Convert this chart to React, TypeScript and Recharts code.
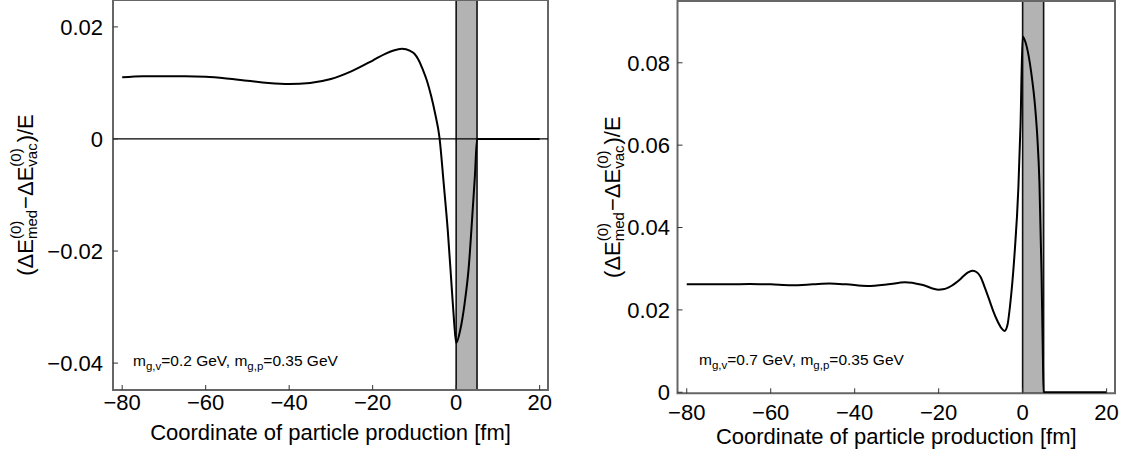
import React from "react";
import { LineChart, Line, XAxis, YAxis, ReferenceArea, ReferenceLine } from "recharts";

const FONT = "'Liberation Sans', Arial, Helvetica, sans-serif";

// shared x axis
const xTicks = [-80, -60, -40, -20, 0, 20];
const xDomain: [number, number] = [-82.2, 22.0];
const bandFrom = 0;
const bandTo = 5;
const xTitle = "Coordinate of particle production [fm]";

// left panel: m_g,v = 0.2 GeV
const leftX = [-80, -75, -70, -65, -60, -55, -50, -45, -40, -35, -30, -25, -20, -17, -15, -13, -11, -10, -9, -8, -7, -6, -5, -4, -3, -2, -1, -0.5, 0, 1, 2, 3, 4, 4.5, 5, 6, 10, 15, 20];
const leftY = [0.011, 0.0112, 0.0112, 0.0112, 0.0111, 0.0108, 0.0104, 0.01, 0.0098, 0.01, 0.0107, 0.0121, 0.014, 0.0152, 0.0158, 0.0161, 0.0157, 0.0152, 0.0141, 0.0124, 0.0104, 0.0077, 0.0044, 0.0003, -0.0078, -0.0164, -0.0272, -0.0325, -0.0364, -0.034, -0.0295, -0.023, -0.0122, -0.0065, 0, 0, 0, 0, 0];
const leftYTicks = [-0.04, -0.02, 0, 0.02];
const leftYDomain: [number, number] = [-0.0448, 0.0248];
const leftMgv = "0.2";

// right panel: m_g,v = 0.7 GeV
const rightX = [-80, -75, -70, -65, -60, -55, -50, -46, -42, -37, -32, -28, -24, -20, -19, -18, -17, -16, -15, -14, -13, -12, -11, -10, -9, -8, -7, -6, -5, -4.3, -3.6, -3, -2, -1, -0.5, 0, 0.5, 1, 2, 3, 3.5, 4, 4.5, 4.8, 5, 6, 10, 15, 20];
const rightY = [0.0262, 0.0262, 0.0262, 0.0263, 0.0262, 0.026, 0.0262, 0.0264, 0.0262, 0.0258, 0.0262, 0.0267, 0.0261, 0.0249, 0.025, 0.0253, 0.0258, 0.0265, 0.0273, 0.0283, 0.0291, 0.0295, 0.0292, 0.028, 0.0254, 0.0226, 0.0197, 0.0173, 0.0155, 0.0149, 0.0164, 0.021, 0.0325, 0.05, 0.065, 0.0864, 0.0855, 0.0838, 0.078, 0.069, 0.062, 0.051, 0.029, 0.01, 0, 0, 0, 0, 0];
const rightYTicks = [0, 0.02, 0.04, 0.06, 0.08];
const rightYDomain: [number, number] = [-0.00025, 0.095];
const rightMgv = "0.7";

const mgp = "0.35";

const fmtX = (v: number) => (v < 0 ? "\u2212" : "") + Math.abs(v);
const fmtY = (v: number) => (v === 0 ? "0" : (v < 0 ? "\u2212" : "") + Math.abs(v).toFixed(2));

// rough Arial advance widths, used to stack the sub/superscripts of the y label
const CW: Record<string, number> = {
  "(": 0.333, ")": 0.333, "\u0394": 0.668, E: 0.667, "0": 0.556, m: 0.833, e: 0.556, d: 0.556,
  "\u2212": 0.584, v: 0.5, a: 0.556, c: 0.5, "/": 0.278,
};
const textW = (s: string, size: number) => [...s].reduce((a, ch) => a + (CW[ch] ?? 0.556) * size, 0);

function YLabel({ cx, cy }: { cx: number; cy: number }) {
  const F = 22;
  const S = 15;
  const parts: { main?: string; sup?: string; sub?: string }[] = [
    { main: "(\u0394E" },
    { sup: "(0)", sub: "med" },
    { main: "\u2212\u0394E" },
    { sup: "(0)", sub: "vac" },
    { main: ")/E" },
  ];
  const widths = parts.map((p) =>
    p.main ? textW(p.main, F) : Math.max(textW(p.sup!, S), textW(p.sub!, S)) + 1
  );
  const total = widths.reduce((a, b) => a + b, 0);
  let pos = -total / 2;
  const nodes: React.ReactNode[] = [];
  parts.forEach((p, i) => {
    if (p.main) {
      nodes.push(
        <text key={i} x={pos} y={0} fontSize={F}>{p.main}</text>
      );
    } else {
      nodes.push(
        <text key={i + "s"} x={pos} y={-12} fontSize={S}>{p.sup}</text>,
        <text key={i + "b"} x={pos} y={4} fontSize={S}>{p.sub}</text>
      );
    }
    pos += widths[i];
  });
  return (
    <g transform={`translate(${cx}, ${cy}) rotate(-90)`} fontFamily={FONT} fill="#000">
      {nodes}
    </g>
  );
}

type PanelProps = {
  xs: number[];
  ys: number[];
  yTicks: number[];
  yDomain: [number, number];
  zeroLine: boolean;
  mgv: string;
  left: number;
  margin: { top: number; right: number; bottom: number; left: number };
  yAxisWidth: number;
  xAxisHeight: number;
  xTickGap: number;
  yTickGap: number;
  yLabelBase: number;
  titleOffset: number;
  noteX: number;
  noteY: number;
};

function Panel(props: PanelProps) {
  const { xs, ys, yTicks, yDomain, zeroLine, mgv, margin, xTickGap, yTickGap } = props;
  const data = xs.map((x, i) => ({ x, y: ys[i] }));

  const xTick = (p: any) => {
    const { x, y, payload } = p;
    const y0 = y - xTickGap;
    return (
      <g>
        <line x1={x} x2={x} y1={y0} y2={y0 - 5} stroke="#333" strokeWidth={1} />
        <text x={x} y={y} dy="0.71em" textAnchor="middle" fontSize={22} fill="#000" fontFamily={FONT}>
          {fmtX(payload.value)}
        </text>
      </g>
    );
  };

  const yTick = (p: any) => {
    const { x, y, payload } = p;
    const x0 = x + yTickGap;
    return (
      <g>
        <line x1={x0} x2={x0 + 5} y1={y} y2={y} stroke="#333" strokeWidth={1} />
        <text x={x} y={y} dy="0.355em" textAnchor="end" fontSize={22} fill="#000" fontFamily={FONT}>
          {fmtY(payload.value)}
        </text>
      </g>
    );
  };

  return (
    <div style={{ position: "absolute", left: props.left, top: 0 }}>
      <LineChart width={560} height={452} data={data} margin={margin}>
        <XAxis
          dataKey="x"
          type="number"
          domain={xDomain}
          ticks={xTicks}
          allowDataOverflow
          axisLine={false}
          tickLine={false}
          tickSize={0}
          tickMargin={xTickGap}
          height={props.xAxisHeight}
          tick={xTick}
          interval={0}
          label={(lp: any) => {
            const vb = lp.viewBox;
            return (
              <text
                x={vb.x + vb.width / 2}
                y={vb.y + props.titleOffset}
                textAnchor="middle"
                fontSize={22}
                fontFamily={FONT}
                fill="#000"
              >
                {xTitle}
              </text>
            );
          }}
        />
        <YAxis
          type="number"
          domain={yDomain}
          ticks={yTicks}
          allowDataOverflow
          axisLine={false}
          tickLine={false}
          tickSize={0}
          tickMargin={yTickGap}
          width={props.yAxisWidth}
          tick={yTick}
          interval={0}
          label={(lp: any) => {
            const vb = lp.viewBox;
            return <YLabel cx={vb.x + props.yLabelBase} cy={vb.y + vb.height / 2} />;
          }}
        />
        <ReferenceArea
          x1={bandFrom}
          x2={bandTo}
          fill="#b3b3b3"
          fillOpacity={1}
          stroke="#111"
          strokeWidth={1.6}
        />
        {zeroLine && <ReferenceLine y={0} stroke="#000" strokeWidth={1.2} />}
        <Line
          type="monotone"
          dataKey="y"
          stroke="#000"
          strokeWidth={2}
          dot={false}
          activeDot={false}
          isAnimationActive={false}
        />
        <ReferenceArea
          x1={xDomain[0]}
          x2={xDomain[1]}
          y1={yDomain[0]}
          y2={yDomain[1]}
          fill="none"
          stroke="#666"
          strokeWidth={2}
        />
      </LineChart>
      <div
        style={{
          position: "absolute",
          left: props.noteX,
          top: props.noteY,
          fontFamily: FONT,
          fontSize: 15.5,
          color: "#000",
          whiteSpace: "nowrap",
          lineHeight: "18px",
        }}
      >
        m<sub style={{ fontSize: 11.5 }}>g,v</sub>={mgv} GeV, m<sub style={{ fontSize: 11.5 }}>g,p</sub>={mgp} GeV
      </div>
    </div>
  );
}

export default function App() {
  return (
    <div style={{ position: "absolute", left: 0, top: 0, width: 1125, height: 452, background: "#fff" }}>
      <Panel
        xs={leftX}
        ys={leftY}
        yTicks={leftYTicks}
        yDomain={leftYDomain}
        zeroLine
        mgv={leftMgv}
        left={0}
        margin={{ top: 0, right: 12, bottom: 0, left: 0 }}
        yAxisWidth={113}
        xAxisHeight={62}
        xTickGap={4}
        yTickGap={10}
        yLabelBase={33}
        titleOffset={50}
        noteX={133}
        noteY={352}
      />
      <Panel
        xs={rightX}
        ys={rightY}
        yTicks={rightYTicks}
        yDomain={rightYDomain}
        zeroLine={false}
        mgv={rightMgv}
        left={565}
        margin={{ top: 1, right: 10, bottom: 0, left: 0 }}
        yAxisWidth={112.5}
        xAxisHeight={58.7}
        xTickGap={11}
        yTickGap={7.5}
        yLabelBase={55}
        titleOffset={51}
        noteX={134}
        noteY={351}
      />
    </div>
  );
}
